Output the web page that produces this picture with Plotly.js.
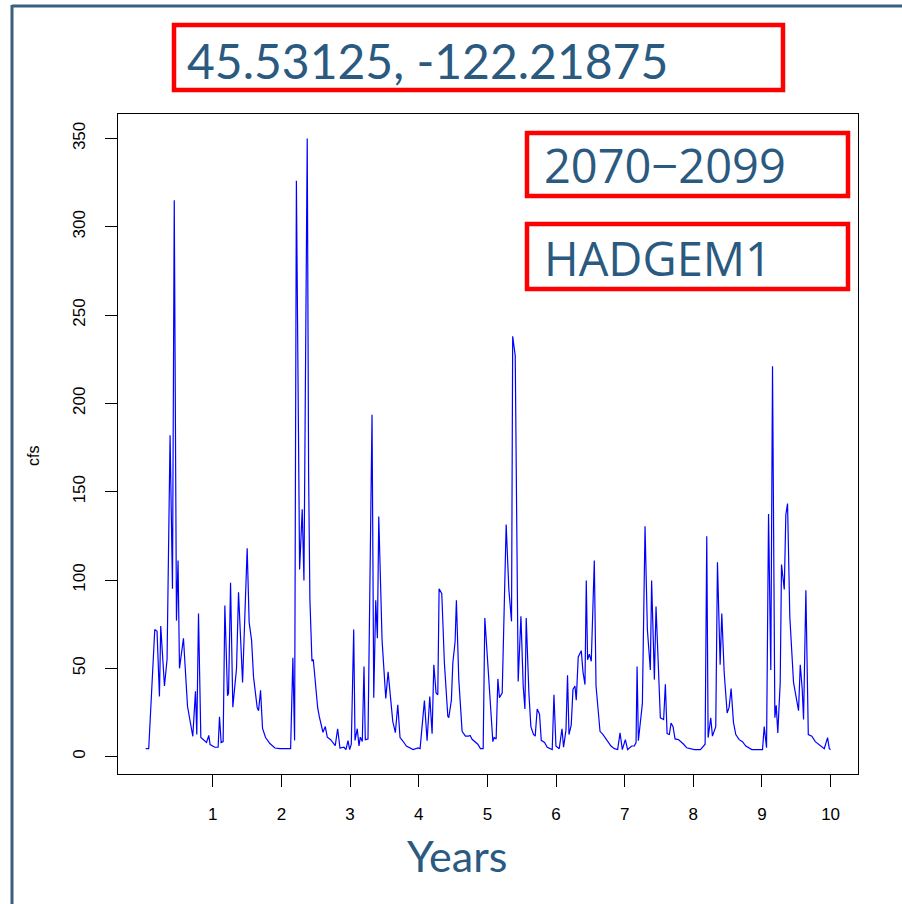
<!DOCTYPE html>
<html>
<head>
<meta charset="utf-8">
<script src="https://cdn.plot.ly/plotly-3.0.1.min.js"></script>
<style>html,body{margin:0;padding:0;background:#fff;}#chart{width:902px;height:904px;}</style>
</head>
<body>
<div id="chart"></div>
<script>
// Weekly streamflow (cfs), x in years
const years = [
0.023,0.067,0.155,0.188,0.223,0.242,0.296,0.334,0.378,0.413,0.439,0.471,0.494,0.515,0.573,0.632,0.709,0.748,0.767,0.792,0.826,0.884,0.909,0.942,0.961,
1.030,1.078,1.098,1.122,1.151,1.176,1.215,1.230,1.259,1.292,1.346,1.375,1.434,1.501,1.530,1.565,1.594,1.647,1.667,1.696,1.725,1.769,1.832,1.905,1.978,
2.134,2.167,2.192,2.218,2.265,2.303,2.328,2.376,2.396,2.415,2.445,2.464,2.499,2.528,2.551,2.605,2.639,2.668,2.717,2.784,2.819,2.853,2.911,2.940,2.970,2.994,
3.018,3.053,3.072,3.105,3.130,3.149,3.178,3.203,3.222,3.261,3.320,3.345,3.374,3.398,3.418,3.466,3.520,3.554,3.622,3.660,3.695,3.728,3.772,3.820,3.918,3.991,
4.020,4.083,4.122,4.161,4.195,4.220,4.253,4.278,4.297,4.336,4.374,4.424,4.438,4.476,4.497,4.530,4.549,4.584,4.632,4.681,4.724,4.749,4.778,4.861,4.899,4.939,4.963,
5.001,5.036,5.080,5.099,5.128,5.153,5.176,5.216,5.274,5.313,5.352,5.369,5.406,5.449,5.489,5.522,5.547,5.566,5.605,5.634,5.672,5.697,5.726,5.760,5.785,5.833,5.872,5.945,5.970,5.999,
6.047,6.087,6.110,6.145,6.168,6.189,6.222,6.247,6.276,6.295,6.324,6.368,6.393,6.422,6.441,6.460,6.485,6.514,6.558,6.583,6.612,6.641,6.685,6.743,6.801,6.850,6.898,6.933,6.966,
7.010,7.043,7.102,7.141,7.166,7.181,7.200,7.229,7.258,7.297,7.331,7.374,7.393,7.433,7.457,7.491,7.520,7.568,7.593,7.618,7.651,7.676,7.705,7.734,7.783,7.860,7.904,
8.016,8.104,8.172,8.196,8.216,8.254,8.279,8.327,8.352,8.391,8.415,8.450,8.493,8.522,8.551,8.585,8.619,8.668,8.716,8.765,8.852,
9.008,9.033,9.067,9.096,9.129,9.154,9.188,9.208,9.231,9.266,9.285,9.325,9.348,9.373,9.406,9.460,9.508,9.533,9.558,9.587,9.606,9.640,9.675,9.727,9.777,9.835,9.908,9.956,9.981,10.0
];
const cfs = [
4.5,4.5,72,71,34,74,40,55,182,95,315,77,111,50,67,28.5,11.5,37,12.5,81,10.8,9.2,8,12,6.8,
5.3,5.3,22.6,8,8.5,85.5,34.5,36,98.5,28,50,93,42,118,76,66,45,27.7,26,37.5,16,10.8,7.4,4.9,4.5,
4.5,56,9.2,326,106,140,99.7,350,160,89,54,55,38,27.7,22.8,13.8,17,11,9.6,6.2,15.8,4.9,5.3,4,9,4,
7,72,9.2,15.8,6,11,8.5,51,9.6,10,193.6,33.4,88.5,67,136,66,33,48,20,13.6,29.4,10.8,8.7,6,4,4.9,
4.5,31.7,9,34,13,52,36,35,95,92.3,53,22.8,22,32,53,65,88.5,43.6,14.3,11.6,11.6,12,9.8,7,4.5,4.5,78.5,
55,38,8.5,10.8,10,44,33.4,36,131.4,94.6,76.6,238,227,42.6,79.5,40,27,78.5,36,17,12.5,11.6,27,24,9.2,8,5.3,4,35,6,
4.5,15.8,5.3,15,46,12.5,18,38,40,32,56.4,60,48,40.8,99.7,54.8,58,54,111,40,26.6,14.3,12.5,9.2,6,4.5,4,13.4,4,
9.6,4,6,6,8,51,9,20,30,130.4,72,49,99.7,43.6,85,51,22,21,41,13,12.5,19,17,10,9.6,7,5,
4,4,7,124.7,10.8,22,11.6,17,110,52,81,47.6,24.7,28,38.5,19.4,12.5,9.6,8.5,6,4,
4,17,5,137.4,49,221,22,29,13.4,42,108.7,94.6,137,143.3,79,42,30,26,52,38,21,94.2,12.5,11.6,8.5,6.5,4.5,10.8,4.5,4
];
const xTicks = [1,2,3,4,5,6,7,8,9,10];
const yTicks = [0,50,100,150,200,250,300,350];
const titleText = "45.53125, -122.21875";
const periodText = "2070\u22122099";
const modelText = "HADGEM1";
const xLabel = "Years";
const yLabel = "cfs";

const L = 118, R = 858, T = 114, B = 774;
const W = 902, H = 904;
const px = v => (v - L) / (R - L);
const py = v => (B - v) / (B - T);
const textCol = "#2b5a80";
const red = "#ff0000";

const trace = {
  x: years, y: cfs, type: "scatter", mode: "lines",
  line: {color: "#0000ff", width: 1.2}, hoverinfo: "x+y"
};

function box(x0, y0, x1, y1) {
  return {type: "rect", xref: "paper", yref: "paper",
    x0: px(x0), x1: px(x1), y0: py(y1), y1: py(y0),
    line: {color: red, width: 4.5}, fillcolor: "rgba(0,0,0,0)"};
}

const layout = {
  width: W, height: H,
  margin: {l: L, r: W - R, t: T, b: H - B, pad: 0},
  paper_bgcolor: "#ffffff", plot_bgcolor: "#ffffff",
  showlegend: false,
  font: {family: "Liberation Sans, Arial, sans-serif", color: "#000"},
  xaxis: {
    range: [-0.3806, 10.3992], tickvals: xTicks, ticktext: xTicks.map(String),
    showgrid: false, zeroline: false, showline: true, mirror: true,
    linecolor: "#000", linewidth: 1, ticks: "outside", ticklen: 12, tickwidth: 1,
    tickcolor: "#000", tickfont: {size: 17, color: "#000"}, ticklabelstandoff: 13
  },
  yaxis: {
    range: [-9.84, 363.84], tickvals: yTicks, ticktext: yTicks.map(String),
    showgrid: false, zeroline: false, showline: true, mirror: true,
    linecolor: "#000", linewidth: 1, ticks: "outside", ticklen: 12, tickwidth: 1,
    tickcolor: "#000", tickangle: -90, tickfont: {size: 17, color: "#000"}, ticklabelstandoff: 13
  },
  shapes: [
    box(174, 25, 783, 90),
    box(527, 133, 848, 196),
    box(527, 224, 848, 289),
    {type: "line", xref: "paper", yref: "paper", x0: px(12), x1: px(902), y0: py(6), y1: py(6),
     line: {color: "#3a5f82", width: 3}},
    {type: "line", xref: "paper", yref: "paper", x0: px(12), x1: px(12), y0: py(5), y1: py(904),
     line: {color: "#3a5f82", width: 3}}
  ],
  annotations: [
    {text: titleText, xref: "paper", yref: "paper", x: px(185), y: py(61), xanchor: "left", yanchor: "middle",
     showarrow: false, font: {family: "Lato, sans-serif", size: 48, color: textCol}},
    {text: periodText, xref: "paper", yref: "paper", x: px(542), y: py(165), xanchor: "left", yanchor: "middle",
     showarrow: false, font: {family: "Open Sans, sans-serif", size: 47, color: textCol}},
    {text: modelText, xref: "paper", yref: "paper", x: px(542), y: py(258), xanchor: "left", yanchor: "middle",
     showarrow: false, font: {family: "Open Sans, sans-serif", size: 47, color: textCol}},
    {text: xLabel, xref: "paper", yref: "paper", x: px(457), y: py(855), xanchor: "center", yanchor: "middle",
     showarrow: false, font: {family: "Lato, sans-serif", size: 43, color: textCol}},
    {text: yLabel, xref: "paper", yref: "paper", x: px(33), y: py(456), xanchor: "center", yanchor: "middle",
     textangle: -90, showarrow: false, font: {family: "Liberation Sans, Arial, sans-serif", size: 16, color: "#000"}}
  ]
};

Plotly.newPlot("chart", [trace], layout, {displayModeBar: false, staticPlot: true});
</script>
</body>
</html>
